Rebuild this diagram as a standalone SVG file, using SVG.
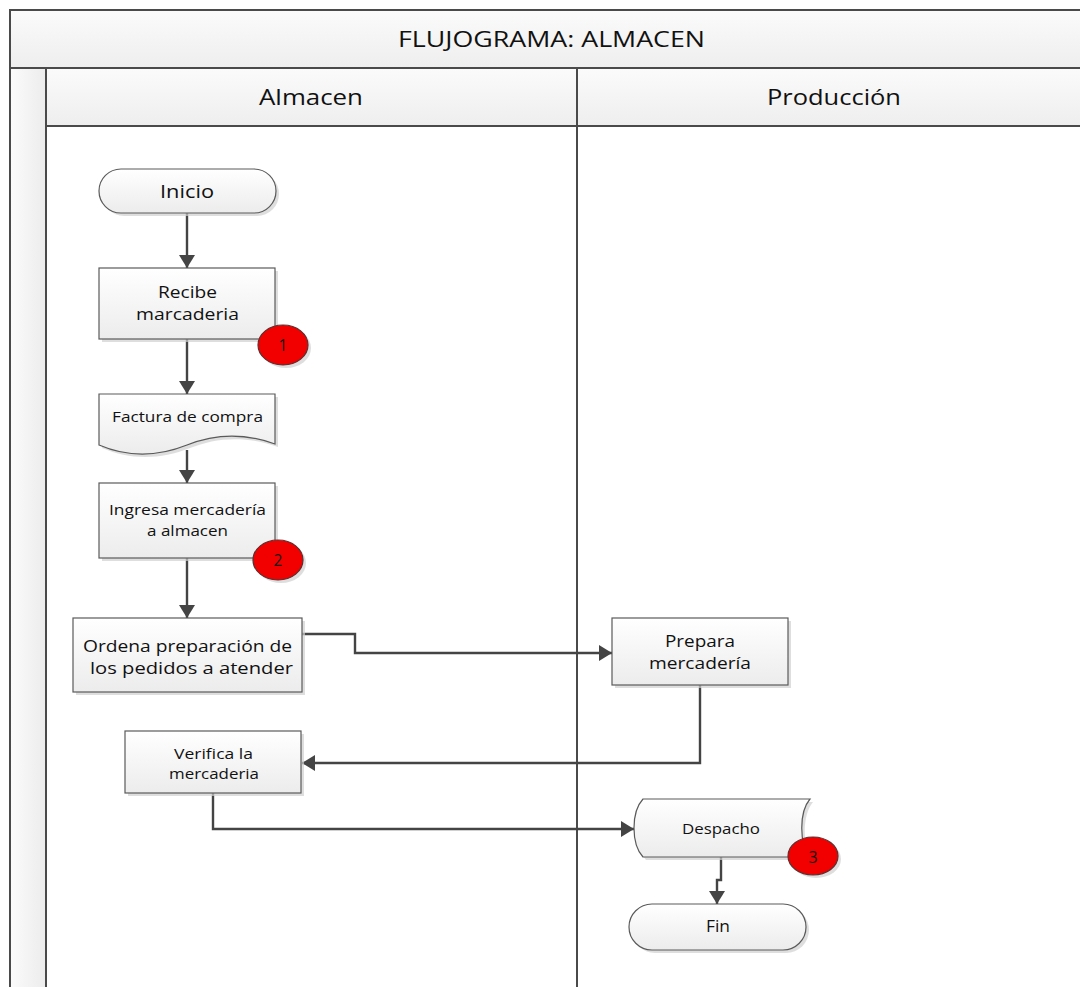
<svg xmlns="http://www.w3.org/2000/svg" width="1080" height="987" viewBox="0 0 1080 987">
  <style>
    .frame { stroke: #4a4a4a; stroke-width: 2; }
    .node { fill: url(#boxFill); stroke: #5a5a5a; stroke-width: 1.2; }
    .shadow { fill: #d0d0d0; opacity: 0.7; }
    .txt { font-family: "Open Sans", "Liberation Sans", sans-serif; fill: #111; text-anchor: middle; }
    .conn { fill: none; stroke: #444; stroke-width: 2.4; }
    .badge { fill: #f20000; stroke: #5a3030; stroke-width: 1.2; }
  </style>
  <defs>
    <linearGradient id="boxFill" x1="0" y1="0" x2="0" y2="1">
      <stop offset="0" stop-color="#ffffff"/>
      <stop offset="1" stop-color="#ececec"/>
    </linearGradient>
    <linearGradient id="headFill" x1="0" y1="0" x2="0" y2="1">
      <stop offset="0" stop-color="#fbfbfb"/>
      <stop offset="1" stop-color="#eeeeee"/>
    </linearGradient>
    <linearGradient id="stripFill" x1="0" y1="0" x2="1" y2="0">
      <stop offset="0" stop-color="#fbfbfb"/>
      <stop offset="1" stop-color="#ececec"/>
    </linearGradient>
    <marker id="arrowBig" viewBox="0 0 13 16" refX="13" refY="8" markerWidth="13" markerHeight="16" markerUnits="userSpaceOnUse" orient="auto">
      <path d="M0,0 L13,8 L0,16 z" fill="#444"/>
    </marker>
  </defs>

  <!-- pool frame -->
  <g id="pool">
    <rect x="10" y="10" width="1080" height="990" fill="#ffffff" class="frame"/>
    <rect x="10" y="10" width="1080" height="58" fill="url(#headFill)" class="frame"/>
    <text class="txt" x="551.5" y="47" font-size="22" textLength="307" lengthAdjust="spacingAndGlyphs">FLUJOGRAMA: ALMACEN</text>
    <rect x="10" y="68" width="36" height="930" fill="url(#stripFill)" class="frame"/>
    <rect x="46" y="68" width="1044" height="58" fill="url(#headFill)" class="frame"/>
    <line x1="577" y1="68" x2="577" y2="1000" class="frame"/>
    <text class="txt" x="311" y="105" font-size="22" textLength="104" lengthAdjust="spacingAndGlyphs">Almacen</text>
    <text class="txt" x="834" y="105" font-size="22" textLength="134" lengthAdjust="spacingAndGlyphs">Producción</text>
  </g>

  <!-- connectors -->
  <g id="connectors">
    <path class="conn" d="M187,213 V268" marker-end="url(#arrowBig)"/>
    <path class="conn" d="M187,339 V394" marker-end="url(#arrowBig)"/>
    <path class="conn" d="M187,450 V483" marker-end="url(#arrowBig)"/>
    <path class="conn" d="M187,558 V618" marker-end="url(#arrowBig)"/>
    <path class="conn" d="M302,634 H355 V653 H612" marker-end="url(#arrowBig)"/>
    <path class="conn" d="M700,685 V763 H302" marker-end="url(#arrowBig)"/>
    <path class="conn" d="M213,793 V829 H634" marker-end="url(#arrowBig)"/>
    <path class="conn" d="M721,857 V880 H717 V904" marker-end="url(#arrowBig)"/>
  </g>

  <g id="inicio">
    <rect x="102" y="172" width="177" height="44" rx="22" class="shadow"/>
    <rect x="99" y="169" width="177" height="44" rx="22" class="node"/>
    <text class="txt" x="187" y="198" font-size="18" textLength="54" lengthAdjust="spacingAndGlyphs">Inicio</text>
  </g>

  <g id="recibe">
    <rect x="102" y="271" width="176" height="71" class="shadow"/>
    <rect x="99" y="268" width="176" height="71" class="node"/>
    <text class="txt" x="187.5" y="298" font-size="15.5" textLength="59" lengthAdjust="spacingAndGlyphs">Recibe</text>
    <text class="txt" x="187.5" y="320" font-size="15.5" textLength="103" lengthAdjust="spacingAndGlyphs">marcaderia</text>
  </g>
  <g id="badge1">
    <ellipse cx="286" cy="348" rx="25" ry="20" class="shadow"/>
    <ellipse cx="283" cy="345" rx="25" ry="20" class="badge"/>
    <text class="txt" x="283" y="351" font-size="15.5">1</text>
  </g>

  <g id="factura">
    <path d="M102,397 H278 V447 C245,435 215,438 190,448 C160,460 130,460 102,448 Z" class="shadow"/>
    <path d="M99,394 H275 V444 C242,432 212,435 187,445 C157,457 127,457 99,445 Z" class="node"/>
    <text class="txt" x="187.5" y="422" font-size="14.5" textLength="151" lengthAdjust="spacingAndGlyphs">Factura de compra</text>
  </g>

  <g id="ingresa">
    <rect x="102" y="486" width="176" height="75" class="shadow"/>
    <rect x="99" y="483" width="176" height="75" class="node"/>
    <text class="txt" x="187.5" y="515" font-size="14.5" textLength="157" lengthAdjust="spacingAndGlyphs">Ingresa mercadería</text>
    <text class="txt" x="187.5" y="536" font-size="14.5" textLength="81" lengthAdjust="spacingAndGlyphs">a almacen</text>
  </g>
  <g id="badge2">
    <ellipse cx="281" cy="563" rx="25" ry="20" class="shadow"/>
    <ellipse cx="278" cy="560" rx="25" ry="20" class="badge"/>
    <text class="txt" x="278" y="566" font-size="15.5">2</text>
  </g>

  <g id="ordena">
    <rect x="76" y="621" width="229" height="74" class="shadow"/>
    <rect x="73" y="618" width="229" height="74" class="node"/>
    <text class="txt" x="187.5" y="652" font-size="17" textLength="209" lengthAdjust="spacingAndGlyphs">Ordena preparación de</text>
    <text class="txt" x="191.5" y="674" font-size="17" textLength="203" lengthAdjust="spacingAndGlyphs">los pedidos a atender</text>
  </g>

  <g id="prepara">
    <rect x="615" y="621" width="176" height="67" class="shadow"/>
    <rect x="612" y="618" width="176" height="67" class="node"/>
    <text class="txt" x="700" y="647" font-size="15.5" textLength="70" lengthAdjust="spacingAndGlyphs">Prepara</text>
    <text class="txt" x="700" y="669" font-size="15.5" textLength="102" lengthAdjust="spacingAndGlyphs">mercadería</text>
  </g>

  <g id="verifica">
    <rect x="128" y="734" width="176" height="62" class="shadow"/>
    <rect x="125" y="731" width="176" height="62" class="node"/>
    <text class="txt" x="213.5" y="759" font-size="14.5" textLength="79" lengthAdjust="spacingAndGlyphs">Verifica la</text>
    <text class="txt" x="214" y="779" font-size="14.5" textLength="90" lengthAdjust="spacingAndGlyphs">mercaderia</text>
  </g>

  <g id="despacho">
    <path d="M646,802 H813 C802,815 802,847 813,860 H646 C634,847 634,815 646,802 Z" class="shadow"/>
    <path d="M643,799 H810 C799,812 799,844 810,857 H643 C631,844 631,812 643,799 Z" class="node"/>
    <text class="txt" x="721" y="834" font-size="14.5" textLength="78" lengthAdjust="spacingAndGlyphs">Despacho</text>
  </g>
  <g id="badge3">
    <ellipse cx="816" cy="859" rx="25" ry="19" class="shadow"/>
    <ellipse cx="813" cy="856" rx="25" ry="19" class="badge"/>
    <text class="txt" x="813" y="863" font-size="16">3</text>
  </g>

  <g id="fin">
    <rect x="632" y="907" width="177" height="46" rx="23" class="shadow"/>
    <rect x="629" y="904" width="177" height="46" rx="23" class="node"/>
    <text class="txt" x="718" y="932" font-size="15.5" textLength="24" lengthAdjust="spacingAndGlyphs">Fin</text>
  </g>
</svg>
